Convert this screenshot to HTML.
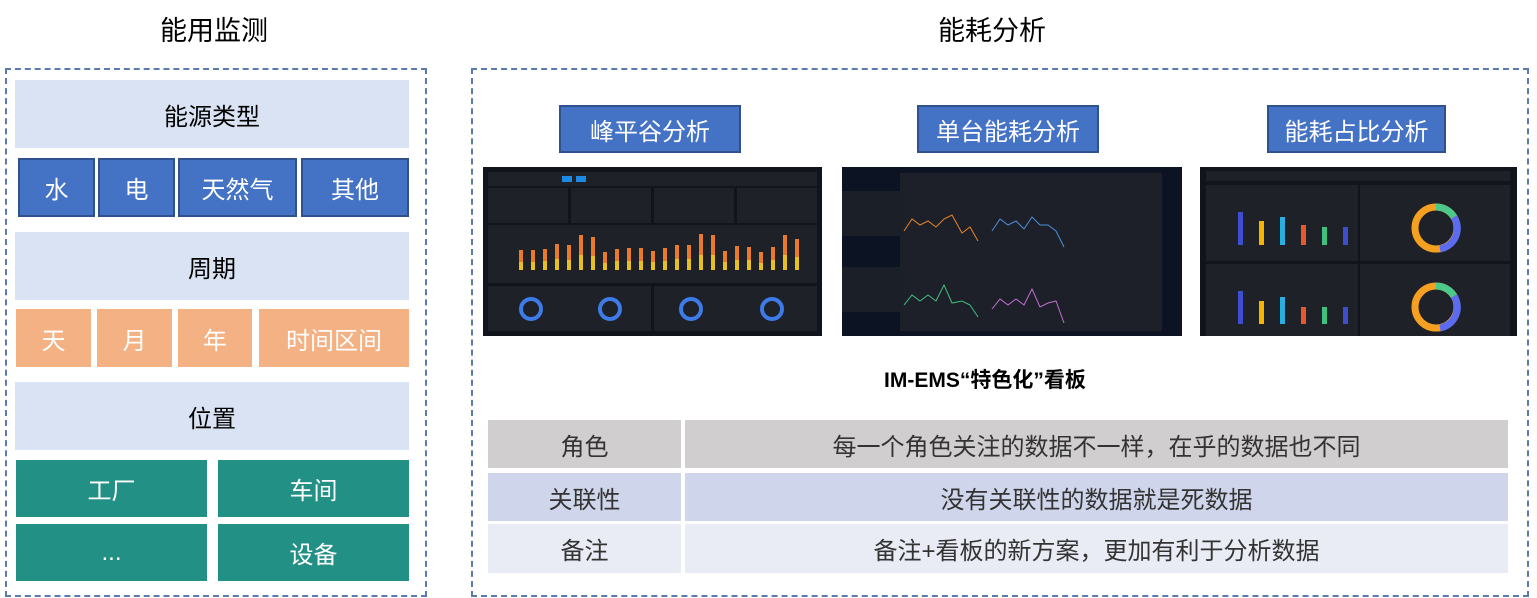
<!DOCTYPE html>
<html><head><meta charset="utf-8"><style>
*{margin:0;padding:0;box-sizing:border-box}
body{width:1537px;height:598px;background:#fff;position:relative;overflow:hidden;font-family:"Liberation Sans","Noto Sans CJK SC",sans-serif}
.a{position:absolute;display:flex;align-items:center;justify-content:center}
.lt{background:#dae3f3;color:#000;font-size:24px}
.bl{background:#4472c4;border:2px solid #2f528f;color:#fff;font-size:24px}
.or{background:#f4b183;color:#fff;font-size:24px}
.tl{background:#239085;color:#fff;font-size:24px}
.dash{position:absolute;border:2px dashed #5a7bb0}
.h{position:absolute;font-size:27px;color:#000}
.tb{background:#4472c4;border:2px solid #2f528f;color:#fff;font-size:24px}
.r{position:absolute;font-size:24px;color:#333;display:flex;align-items:center;justify-content:center}
</style></head><body>
<div class="h" style="left:160px;top:9px">能用监测</div>
<div class="h" style="left:938px;top:9px">能耗分析</div>
<div class="dash" style="left:5px;top:68px;width:422px;height:529px"></div>
<div class="dash" style="left:471px;top:68px;width:1058px;height:529px"></div>

<div class="a lt" style="left:15px;top:80px;width:394px;height:68px">能源类型</div>
<div class="a bl" style="left:18px;top:158px;width:77px;height:59px">水</div>
<div class="a bl" style="left:98px;top:158px;width:77px;height:59px">电</div>
<div class="a bl" style="left:178px;top:158px;width:119px;height:59px">天然气</div>
<div class="a bl" style="left:301px;top:158px;width:108px;height:59px">其他</div>
<div class="a lt" style="left:15px;top:232px;width:394px;height:68px">周期</div>
<div class="a or" style="left:16px;top:309px;width:75px;height:58px">天</div>
<div class="a or" style="left:97px;top:309px;width:75px;height:58px">月</div>
<div class="a or" style="left:178px;top:309px;width:74px;height:58px">年</div>
<div class="a or" style="left:259px;top:309px;width:150px;height:58px">时间区间</div>
<div class="a lt" style="left:15px;top:382px;width:394px;height:68px">位置</div>
<div class="a tl" style="left:16px;top:460px;width:191px;height:57px">工厂</div>
<div class="a tl" style="left:218px;top:460px;width:191px;height:57px">车间</div>
<div class="a tl" style="left:16px;top:524px;width:191px;height:57px">...</div>
<div class="a tl" style="left:218px;top:524px;width:191px;height:57px">设备</div>

<div class="a tb" style="left:559px;top:105px;width:182px;height:48px">峰平谷分析</div>
<div class="a tb" style="left:917px;top:105px;width:182px;height:48px">单台能耗分析</div>
<div class="a tb" style="left:1267px;top:105px;width:179px;height:48px">能耗占比分析</div>

<svg style="position:absolute;left:483px;top:167px" width="339" height="169">
<rect width="339" height="169" fill="#11141b"/>
<rect x="5" y="5" width="329" height="14" fill="#1e2128"/>
<rect x="79" y="9" width="10" height="6" fill="#1e88e5"/><rect x="93" y="9" width="10" height="6" fill="#1e88e5"/>
<g fill="#1e2128"><rect x="5" y="21" width="80" height="35"/><rect x="88" y="21" width="80" height="35"/><rect x="171" y="21" width="80" height="35"/><rect x="254" y="21" width="80" height="35"/>
<rect x="5" y="58" width="329" height="58"/><rect x="5" y="119" width="163" height="45"/><rect x="171" y="119" width="163" height="45"/></g>
<g fill="#e87a2a">
<rect x="36" y="83" width="4" height="20"/><rect x="48" y="83" width="4" height="20"/><rect x="60" y="82" width="4" height="21"/><rect x="72" y="77" width="4" height="26"/><rect x="84" y="78" width="4" height="25"/><rect x="96" y="68" width="4" height="35"/><rect x="108" y="70" width="4" height="33"/><rect x="120" y="85" width="4" height="18"/><rect x="132" y="82" width="4" height="21"/><rect x="144" y="81" width="4" height="22"/><rect x="156" y="81" width="4" height="22"/><rect x="168" y="84" width="4" height="19"/><rect x="180" y="81" width="4" height="22"/><rect x="192" y="78" width="4" height="25"/><rect x="204" y="78" width="4" height="25"/><rect x="216" y="67" width="4" height="36"/><rect x="228" y="68" width="4" height="35"/><rect x="240" y="84" width="4" height="19"/><rect x="252" y="79" width="4" height="24"/><rect x="264" y="80" width="4" height="23"/><rect x="276" y="85" width="4" height="18"/><rect x="288" y="80" width="4" height="23"/><rect x="300" y="68" width="4" height="35"/><rect x="312" y="72" width="4" height="31"/></g>
<g fill="#e8c020"><rect x="36" y="95" width="4" height="8"/><rect x="48" y="95" width="4" height="8"/><rect x="60" y="94" width="4" height="9"/><rect x="72" y="92" width="4" height="11"/><rect x="84" y="93" width="4" height="10"/><rect x="96" y="88" width="4" height="15"/><rect x="108" y="89" width="4" height="14"/><rect x="120" y="96" width="4" height="7"/><rect x="132" y="94" width="4" height="9"/><rect x="144" y="94" width="4" height="9"/><rect x="156" y="94" width="4" height="9"/><rect x="168" y="95" width="4" height="8"/><rect x="180" y="94" width="4" height="9"/><rect x="192" y="92" width="4" height="11"/><rect x="204" y="92" width="4" height="11"/><rect x="216" y="88" width="4" height="15"/><rect x="228" y="88" width="4" height="15"/><rect x="240" y="95" width="4" height="8"/><rect x="252" y="93" width="4" height="10"/><rect x="264" y="93" width="4" height="10"/><rect x="276" y="96" width="4" height="7"/><rect x="288" y="93" width="4" height="10"/><rect x="300" y="88" width="4" height="15"/><rect x="312" y="90" width="4" height="13"/></g>
<g fill="none" stroke="#3d7be8" stroke-width="4"><circle cx="48" cy="142" r="10"/><circle cx="127" cy="142" r="10"/><circle cx="208" cy="142" r="10"/><circle cx="289" cy="142" r="10"/></g>
</svg>
<svg style="position:absolute;left:842px;top:167px" width="340" height="169">
<rect width="340" height="169" fill="#0c1424"/>
<rect x="58" y="6" width="262" height="158" fill="#1d2028"/>
<rect x="0" y="24" width="62" height="45" fill="#1a1f28"/><rect x="0" y="100" width="62" height="45" fill="#1a1f28"/>
<polyline fill="none" stroke="#e8842a" stroke-width="1" points="62,64 70,52 78,58 86,54 94,60 102,52 110,48 120,66 128,60 136,74"/>
<polyline fill="none" stroke="#4d8ed8" stroke-width="1" points="150,64 158,52 166,58 174,54 182,62 190,50 198,58 206,58 214,64 222,80"/>
<polyline fill="none" stroke="#3fbf7f" stroke-width="1" points="62,138 70,128 78,134 86,128 94,134 102,118 110,136 120,134 128,138 136,150"/>
<polyline fill="none" stroke="#c070d0" stroke-width="1" points="150,142 158,132 166,138 174,132 182,138 190,122 198,140 206,136 214,134 222,156"/>
</svg>
<svg style="position:absolute;left:1200px;top:167px" width="317" height="169">
<rect width="317" height="169" fill="#11141b"/>
<rect x="6" y="4" width="304" height="10" fill="#1e2128"/>
<g fill="#1e2128"><rect x="6" y="18" width="152" height="76"/><rect x="160" y="18" width="150" height="76"/><rect x="6" y="97" width="152" height="72"/><rect x="160" y="97" width="150" height="72"/></g>
<g><rect x="38" y="45" width="5" height="33" fill="#3f4ecf"/><rect x="59" y="54" width="5" height="24" fill="#f5b400"/><rect x="80" y="50" width="5" height="28" fill="#2ab0e0"/><rect x="101" y="58" width="5" height="20" fill="#e8582a"/><rect x="122" y="60" width="5" height="18" fill="#3fc07f"/><rect x="143" y="60" width="5" height="18" fill="#3f4ecf"/>
<rect x="38" y="124" width="5" height="33" fill="#3f4ecf"/><rect x="59" y="134" width="5" height="23" fill="#f5b400"/><rect x="80" y="130" width="5" height="27" fill="#2ab0e0"/><rect x="101" y="140" width="5" height="17" fill="#e8582a"/><rect x="122" y="140" width="5" height="17" fill="#3fc07f"/><rect x="143" y="140" width="5" height="17" fill="#3f4ecf"/></g>
<g fill="none" stroke-width="7"><circle cx="236" cy="61" r="21" stroke="#f5a020"/><circle cx="236" cy="140" r="21" stroke="#f5a020"/></g>
<path d="M236 40 A21 21 0 0 1 254 50" fill="none" stroke="#4cc88a" stroke-width="7"/><path d="M254 50 A21 21 0 0 1 240 82" fill="none" stroke="#5b6cf0" stroke-width="7"/>
<path d="M236 119 A21 21 0 0 1 254 129" fill="none" stroke="#4cc88a" stroke-width="7"/><path d="M254 129 A21 21 0 0 1 240 161" fill="none" stroke="#5b6cf0" stroke-width="7"/>
</svg>

<div style="position:absolute;left:884px;top:364px;font-size:21px;font-weight:bold;color:#000;white-space:nowrap">IM-EMS“特色化”看板</div>

<div class="r" style="left:488px;top:420px;width:193px;height:48px;background:#d0cece">角色</div>
<div class="r" style="left:685px;top:420px;width:823px;height:48px;background:#d0cece">每一个角色关注的数据不一样，在乎的数据也不同</div>
<div class="r" style="left:488px;top:473px;width:193px;height:48px;background:#cfd5ea">关联性</div>
<div class="r" style="left:685px;top:473px;width:823px;height:48px;background:#cfd5ea">没有关联性的数据就是死数据</div>
<div class="r" style="left:488px;top:524px;width:193px;height:49px;background:#e9ebf5">备注</div>
<div class="r" style="left:685px;top:524px;width:823px;height:49px;background:#e9ebf5">备注+看板的新方案，更加有利于分析数据</div>
</body></html>
